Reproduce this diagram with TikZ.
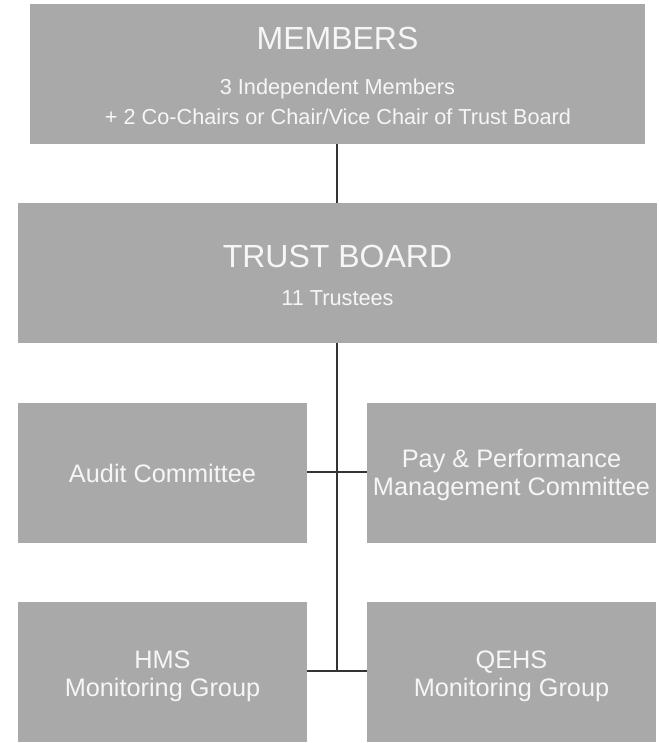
\documentclass[tikz,border=0pt]{standalone}
\usepackage{fontspec}
\setmainfont{Liberation Sans}
\definecolor{boxgray}{HTML}{A9A9A9}
\definecolor{linegray}{HTML}{333333}
\definecolor{txtwhite}{HTML}{F6F6F6}
\begin{document}
\begin{tikzpicture}[x=1pt,y=-1pt,
  orgbox/.style={draw=none,fill=boxgray,rectangle,inner sep=0pt,minimum height=140pt},
  wide/.style={minimum width=#1},
  txt/.style={text=txtwhite,anchor=base,inner sep=0pt},
  big/.style={txt,font=\fontsize{32}{38}\selectfont},
  small/.style={txt,font=\fontsize{21.7}{26}\selectfont},
  mid/.style={txt,font=\fontsize{25.3}{30}\selectfont},
  vline/.style={draw=linegray,line width=1.8pt},
  hline/.style={draw=linegray,line width=1.3pt}]
\useasboundingbox (0,0) rectangle (658,743);
\fill[white] (0,0) rectangle (658,743);
% boxes
\node[orgbox,wide=615pt] (members) at (337.5,74) {};
\node[orgbox,wide=639pt] (trust) at (337.5,273) {};
\node[orgbox,wide=289pt] (audit) at (162.5,473) {};
\node[orgbox,wide=289pt] (pay) at (511.5,473) {};
\node[orgbox,wide=289pt] (hms) at (162.5,672) {};
\node[orgbox,wide=289pt] (qehs) at (511.5,672) {};
% texts
\node[big] (mtitle) at (337.5,49.5) {MEMBERS};
\node[small] (mline1) at (337.5,95) {3 Independent Members};
\node[small] (mline2) at (338,124.5) {+ 2 Co-Chairs or Chair/Vice Chair of Trust Board};
\node[big] (ttitle) at (337.5,267) {TRUST BOARD};
\node[small] (tline) at (337.5,305) {11 Trustees};
\node[mid] (atext) at (162.5,482) {Audit Committee};
\node[mid] (ptext1) at (511.5,467.5) {Pay \& Performance};
\node[mid] (ptext2) at (511.5,495) {Management Committee};
\node[mid] (htext1) at (162.5,668.5) {HMS};
\node[mid] (htext2) at (162.5,696) {Monitoring Group};
\node[mid] (qtext1) at (511.5,668.5) {QEHS};
\node[mid] (qtext2) at (511.5,696) {Monitoring Group};
% connectors
\coordinate (jb) at (337,671);
\draw[vline] (members.south -| jb) -- (trust.north -| jb);
\draw[vline] (trust.south -| jb) -- (jb);
\draw[hline] (audit.east |- 0,472) -- (pay.west |- 0,472);
\draw[hline] (hms.east |- jb) -- (qehs.west |- jb);
\end{tikzpicture}
\end{document}
